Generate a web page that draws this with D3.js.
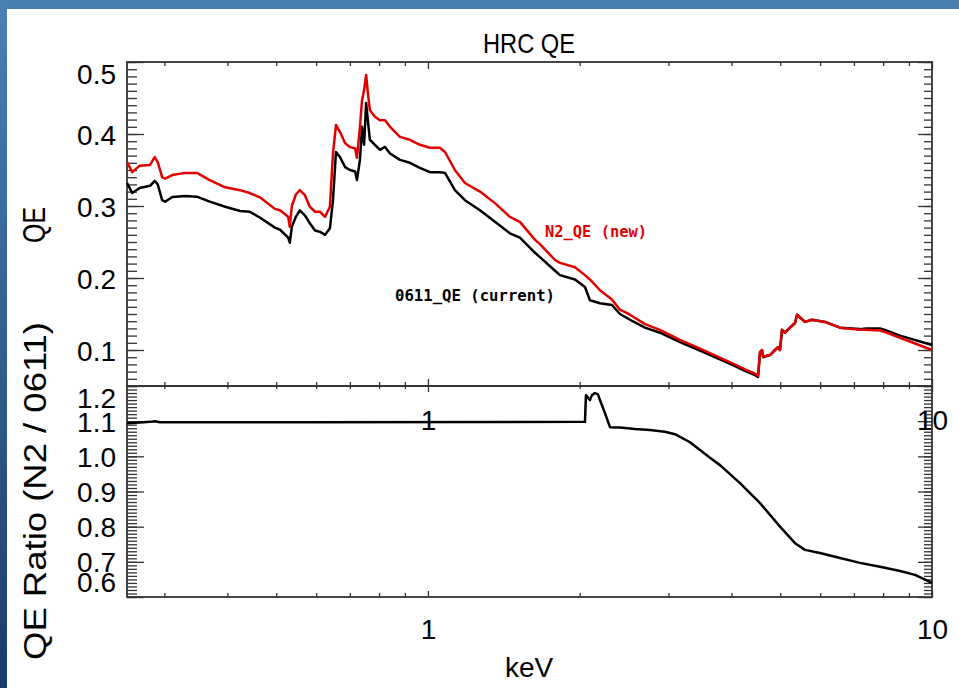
<!DOCTYPE html>
<html><head><meta charset="utf-8">
<script src="https://cdn.jsdelivr.net/npm/d3@7"></script>
<style>body{margin:0;background:#fff;overflow:hidden}svg{display:block}</style>
</head><body>
<svg id="chart" width="959" height="688"></svg>
<script>
// ---- data ----
const energy = [0.253,0.259,0.268,0.281,0.287,0.291,0.297,0.301,0.311,0.330,0.348,0.369,0.396,0.424,0.443,0.464,0.497,0.509,0.528,0.532,0.537,0.547,0.557,0.570,0.583,0.597,0.611,0.625,0.639,0.648,0.657,0.669,0.685,0.700,0.717,0.723,0.733,0.740,0.747,0.754,0.760,0.767,0.785,0.803,0.822,0.841,0.880,0.921,0.964,1.009,1.056,1.081,1.131,1.184,1.268,1.358,1.454,1.522,1.631,1.668,1.787,1.828,1.957,2.049,2.096,2.194,2.318,2.404,2.517,2.695,2.886,3.162,3.465,4.029,4.256,4.456,4.517,4.559,4.600,4.621,4.771,4.881,4.949,4.994,5.040,5.110,5.228,5.349,5.398,5.598,5.780,6.133,6.569,7.197,7.396,7.885,8.067,8.644,10.0];
const qeCurrent = [0.332,0.318,0.325,0.328,0.335,0.330,0.308,0.306,0.3125,0.314,0.313,0.306,0.299,0.293,0.292,0.284,0.270,0.267,0.256,0.249,0.271,0.285,0.294,0.287,0.276,0.266,0.264,0.260,0.269,0.308,0.375,0.368,0.354,0.350,0.348,0.336,0.364,0.410,0.385,0.443,0.419,0.392,0.385,0.378,0.382,0.373,0.364,0.360,0.353,0.347,0.347,0.346,0.322,0.308,0.294,0.278,0.262,0.256,0.235,0.229,0.210,0.204,0.198,0.1875,0.169,0.165,0.1625,0.150,0.142,0.131,0.124,0.111,0.099,0.079,0.071,0.065,0.0625,0.097,0.100,0.090,0.093,0.100,0.104,0.100,0.128,0.124,0.131,0.1375,0.149,0.139,0.142,0.139,0.131,0.129,0.130,0.130,0.128,0.120,0.107];
const qeNew = [0.361,0.347,0.356,0.357,0.368,0.361,0.340,0.338,0.343,0.346,0.346,0.336,0.326,0.322,0.318,0.312,0.296,0.294,0.285,0.271,0.300,0.316,0.322,0.315,0.299,0.292,0.292,0.285,0.299,0.373,0.4125,0.403,0.387,0.382,0.380,0.367,0.410,0.447,0.461,0.482,0.457,0.433,0.424,0.419,0.419,0.410,0.396,0.392,0.385,0.381,0.381,0.375,0.350,0.332,0.320,0.304,0.285,0.278,0.253,0.247,0.225,0.221,0.215,0.204,0.198,0.183,0.170,0.156,0.149,0.136,0.128,0.114,0.102,0.081,0.073,0.067,0.064,0.097,0.100,0.091,0.093,0.100,0.104,0.100,0.128,0.124,0.131,0.1375,0.149,0.139,0.142,0.139,0.131,0.128,0.128,0.127,0.125,0.117,0.100];
const ratioEnergy = [0.253,0.268,0.281,0.287,0.294,0.557,2.049,2.058,2.096,2.115,2.145,2.174,2.194,2.245,2.297,2.404,2.574,2.757,2.952,3.091,3.310,3.465,3.627,3.797,4.160,4.559,4.994,5.349,5.598,5.995,6.569,7.197,7.885,8.644,9.253,10.0];
const ratio = [1.094,1.096,1.098,1.100,1.097,1.097,1.098,1.174,1.160,1.174,1.180,1.176,1.160,1.123,1.083,1.082,1.078,1.075,1.070,1.063,1.040,1.018,0.996,0.975,0.924,0.867,0.800,0.753,0.734,0.725,0.711,0.697,0.686,0.674,0.663,0.640];
const xMajor = [1, 10];
const xMinor = [0.3,0.4,0.5,0.6,0.7,0.8,0.9,2,3,4,5,6,7,8,9];
const qeTicks = [0.1,0.2,0.3,0.4,0.5];
const ratioTicks = [0.6,0.7,0.8,0.9,1.0,1.1,1.2];
const title = "HRC QE";
const xTitle = "keV";
const yTopTitle = "QE";
const yBotTitle = "QE Ratio (N2 / 0611)";
const legendNew = "N2_QE (new)";
const legendCurrent = "0611_QE (current)";

// ---- layout ----
const L = 127, R = 932, T = 62, M = 386, B = 597;
const svg = d3.select("#chart");
const AX = "#333";
const FONT = "'Liberation Sans', Arial, Helvetica, sans-serif";

// frame
const defs = svg.append("defs");
const gv = defs.append("linearGradient").attr("id","gv").attr("x1",0).attr("y1",0).attr("x2",0).attr("y2",1);
gv.append("stop").attr("offset","0%").attr("stop-color","#4a80b4");
gv.append("stop").attr("offset","100%").attr("stop-color","#1c3b69");
svg.append("rect").attr("x",0).attr("y",0).attr("width",959).attr("height",688).attr("fill","#fff");
svg.append("rect").attr("x",0).attr("y",0).attr("width",959).attr("height",9).attr("fill","#4a7fb2");
svg.append("rect").attr("x",0).attr("y",0).attr("width",7).attr("height",688).attr("fill","url(#gv)");

const x = d3.scaleLog().domain([0.2529, 10]).range([L, R]);
const yTop = d3.scaleLinear().domain([0.05, 0.5]).range([M, T]);
const yBot = d3.scaleLinear().domain([0.6, 1.2]).range([B, M]);

function styleAxis(g){
  g.select(".domain").remove();
  g.selectAll("line").attr("stroke", AX).attr("stroke-width", 1.3);
  g.selectAll("text").attr("fill","#000").style("font-family", FONT);
}

function yTicksFor(scale, majors, lo, hi, top, bottom){
  const minors = d3.range(Math.round(lo*100), Math.round(hi*100)+1).map(v=>v/100);
  // left inner ticks
  svg.append("g").attr("transform",`translate(${L},0)`).call(d3.axisRight(scale).tickValues(minors).tickSize(10).tickFormat("")).call(styleAxis);
  svg.append("g").attr("transform",`translate(${L},0)`).call(d3.axisRight(scale).tickValues(majors).tickSize(17).tickFormat("")).call(styleAxis);
  // right inner ticks
  svg.append("g").attr("transform",`translate(${R},0)`).call(d3.axisLeft(scale).tickValues(minors).tickSize(8).tickFormat("")).call(styleAxis);
  svg.append("g").attr("transform",`translate(${R},0)`).call(d3.axisLeft(scale).tickValues(majors).tickSize(14).tickFormat("")).call(styleAxis);
  // labels
  const lab = svg.append("g").attr("transform",`translate(${L},0)`)
    .call(d3.axisLeft(scale).tickValues(majors).tickSize(0).tickPadding(11).tickFormat(d3.format(".1f")));
  lab.call(styleAxis);
  lab.selectAll("text").style("font-size","28px").attr("dy", null)
    .attr("y", d => Math.max(top+11, Math.min(bottom-16, scale(d))) - scale(d) + 10);
}
yTicksFor(yTop, qeTicks, 0.05, 0.5, T, M);
yTicksFor(yBot, ratioTicks, 0.6, 1.2, M, B);

function xTicksAt(y, dir, maj, mn){
  const ax = dir === "down" ? d3.axisBottom : d3.axisTop;
  svg.append("g").attr("transform",`translate(0,${y})`).call(ax(x).tickValues(xMinor).tickSize(mn).tickFormat("")).call(styleAxis);
  svg.append("g").attr("transform",`translate(0,${y})`).call(ax(x).tickValues(xMajor).tickSize(maj).tickFormat("")).call(styleAxis);
}
xTicksAt(T, "down", 7, 4);
xTicksAt(M, "up", 7, 4);
xTicksAt(M, "down", 6, 3);
xTicksAt(B, "up", 6, 4);

function xLabels(y, pad){
  const g = svg.append("g").attr("transform",`translate(0,${y})`)
    .call(d3.axisBottom(x).tickValues(xMajor).tickSize(0).tickPadding(pad).tickFormat(d3.format("d")));
  g.call(styleAxis);
  g.selectAll("text").style("font-size","28px");
}
xLabels(M, 24);
xLabels(B, 22);

// plot frames
svg.append("rect").attr("x",L).attr("y",T).attr("width",R-L).attr("height",M-T).attr("fill","none").attr("stroke",AX).attr("stroke-width",1.8);
svg.append("rect").attr("x",L).attr("y",M).attr("width",R-L).attr("height",B-M).attr("fill","none").attr("stroke",AX).attr("stroke-width",1.8);

// curves
const lineTop = (vals) => d3.line().x((d,i)=>x(energy[i])).y((d)=>yTop(d))(vals);
svg.append("path").attr("d", lineTop(qeCurrent)).attr("fill","none").attr("stroke","#000").attr("stroke-width",2.5).attr("stroke-linejoin","round");
svg.append("path").attr("d", lineTop(qeNew)).attr("fill","none").attr("stroke","#e00000").attr("stroke-width",2.5).attr("stroke-linejoin","round");
svg.append("path").attr("d", d3.line().x((d,i)=>x(ratioEnergy[i])).y(d=>yBot(d))(ratio))
  .attr("fill","none").attr("stroke","#000").attr("stroke-width",2.5).attr("stroke-linejoin","round");

// texts
svg.append("text").attr("x",529).attr("y",53).attr("text-anchor","middle").attr("textLength",92).attr("lengthAdjust","spacingAndGlyphs")
  .style("font-family",FONT).style("font-size","28px").text(title);
svg.append("text").attr("x",529).attr("y",677).attr("text-anchor","middle")
  .style("font-family",FONT).style("font-size","28px").text(xTitle);
svg.append("text").attr("transform","translate(45,225) rotate(-90)").attr("text-anchor","middle").attr("textLength",36).attr("lengthAdjust","spacingAndGlyphs")
  .style("font-family",FONT).style("font-size","31px").text(yTopTitle);
svg.append("text").attr("transform","translate(46,491) rotate(-90)").attr("text-anchor","middle").attr("textLength",338).attr("lengthAdjust","spacingAndGlyphs")
  .style("font-family",FONT).style("font-size","31px").text(yBotTitle);

const MONO = "'DejaVu Sans Mono', 'Liberation Mono', monospace";
svg.append("text").attr("x",545).attr("y",237).attr("textLength",102).attr("lengthAdjust","spacingAndGlyphs")
  .style("font-family",MONO).style("font-size","15px").style("font-weight","bold").attr("fill","#e00000").text(legendNew);
svg.append("text").attr("x",395).attr("y",301).attr("textLength",160).attr("lengthAdjust","spacingAndGlyphs")
  .style("font-family",MONO).style("font-size","15px").style("font-weight","bold").attr("fill","#000").text(legendCurrent);
</script>
</body></html>
